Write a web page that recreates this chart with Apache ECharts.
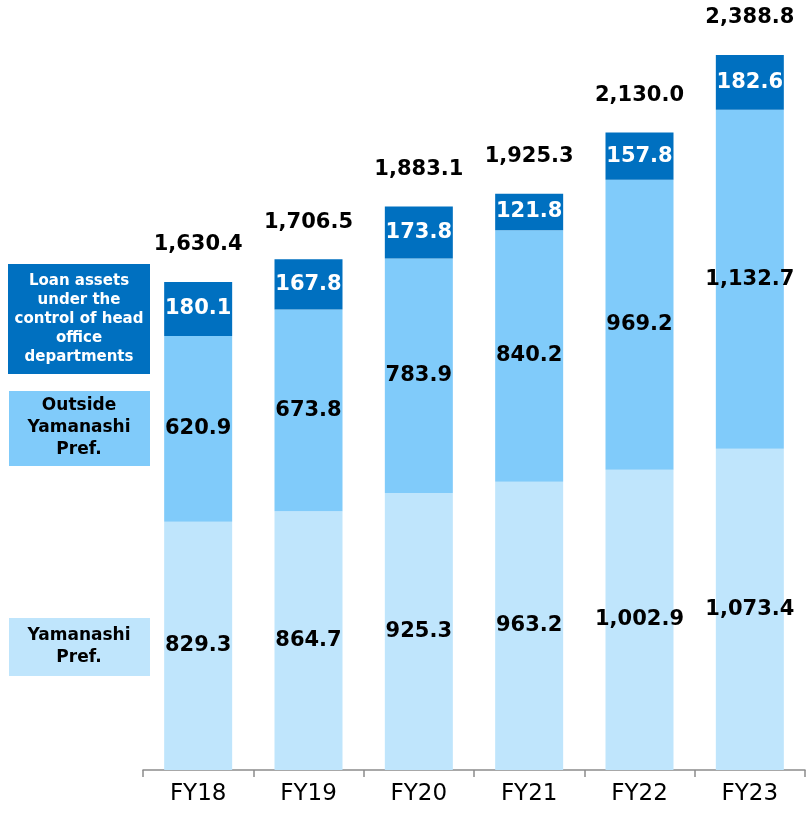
<!DOCTYPE html>
<html>
<head>
<meta charset="utf-8">
<script src="https://cdn.jsdelivr.net/npm/echarts@6/dist/echarts.min.js"></script>
<style>html,body{margin:0;padding:0;background:#fff;}#c{width:807px;height:814px;}</style>
</head>
<body>
<div id="c"></div>
<script>
var categories = ['FY18', 'FY19', 'FY20', 'FY21', 'FY22', 'FY23'];
var yamanashi = [829.3, 864.7, 925.3, 963.2, 1002.9, 1073.4];
var outside = [620.9, 673.8, 783.9, 840.2, 969.2, 1132.7];
var headOffice = [180.1, 167.8, 173.8, 121.8, 157.8, 182.6];
var totals = [1630.4, 1706.5, 1883.1, 1925.3, 2130.0, 2388.8];
var legendNames = ['Loan assets\nunder the\ncontrol of head\noffice\ndepartments', 'Outside\nYamanashi\nPref.', 'Yamanashi\nPref.'];

var C_DARK = '#0070C0', C_MID = '#80CBFA', C_LIGHT = '#BFE5FC';
var FONT = '"DejaVu Sans", Verdana, sans-serif';
function fmt(v) { return Number(v).toLocaleString('en-US', {minimumFractionDigits: 1, maximumFractionDigits: 1}); }
function segLabel(color) {
  return {show: true, position: 'inside', color: color, fontFamily: FONT, fontWeight: 'bold', fontSize: 21,
    formatter: function (p) { return fmt(p.value); }};
}

var chart = echarts.init(document.getElementById('c'));
chart.setOption({
  animation: false,
  grid: {left: 143, right: 2, top: 55, bottom: 44},
  xAxis: {
    type: 'category', data: categories,
    axisLine: {lineStyle: {color: '#8C8C8C', width: 1.5}},
    axisTick: {show: true, length: 7, lineStyle: {color: '#8C8C8C', width: 1.5}},
    axisLabel: {color: '#000', fontFamily: FONT, fontSize: 23, margin: 13}
  },
  yAxis: {type: 'value', min: 0, max: 2388.8, show: false, splitLine: {show: false}},
  graphic: [
    {type: 'rect', left: 8, top: 264, shape: {width: 142, height: 110}, style: {fill: C_DARK}},
    {type: 'text', style: {text: legendNames[0], x: 79, y: 319, align: 'center', verticalAlign: 'middle', fill: '#fff', font: 'bold 15px ' + FONT, lineHeight: 19}},
    {type: 'rect', left: 9, top: 391, shape: {width: 141, height: 75}, style: {fill: C_MID}},
    {type: 'text', style: {text: legendNames[1], x: 79, y: 428, align: 'center', verticalAlign: 'middle', fill: '#000', font: 'bold 17px ' + FONT, lineHeight: 22}},
    {type: 'rect', left: 9, top: 618, shape: {width: 141, height: 58}, style: {fill: C_LIGHT}},
    {type: 'text', style: {text: legendNames[2], x: 79, y: 647, align: 'center', verticalAlign: 'middle', fill: '#000', font: 'bold 17px ' + FONT, lineHeight: 22}}
  ],
  series: [
    {name: 'Yamanashi Pref.', type: 'bar', stack: 'a', barWidth: 68, data: yamanashi, itemStyle: {color: C_LIGHT}, label: segLabel('#000')},
    {name: 'Outside Yamanashi Pref.', type: 'bar', stack: 'a', barWidth: 68, data: outside, itemStyle: {color: C_MID}, label: segLabel('#000')},
    {name: 'Head office', type: 'bar', stack: 'a', barWidth: 68, data: headOffice, itemStyle: {color: C_DARK}, label: segLabel('#fff')},
    {name: 'Total', type: 'scatter', data: totals, symbolSize: 1, itemStyle: {color: 'rgba(0,0,0,0)', opacity: 1},
      label: {show: true, position: 'top', distance: 26, color: '#000', fontFamily: FONT, fontWeight: 'bold', fontSize: 21,
        formatter: function (p) { return fmt(p.value); }}}
  ]
});
</script>
</body>
</html>
